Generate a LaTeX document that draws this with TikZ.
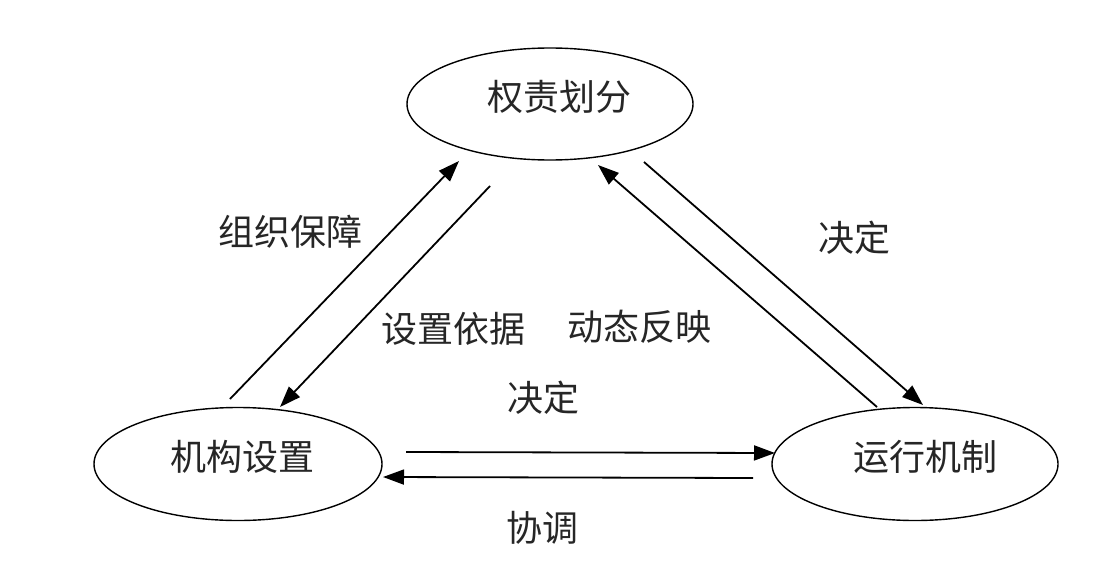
\documentclass[tikz,border=0pt]{standalone}
\usepackage{fontspec}
\newfontfamily\cjk{Noto Sans CJK SC}
\usetikzlibrary{arrows.meta,shapes.geometric}
\begin{document}
\begin{tikzpicture}[x=1pt,y=-1pt,
  oval/.style={draw,ellipse,line width=1.4pt,inner sep=0pt},
  lbl/.style={font=\cjk\fontsize{36}{40}\selectfont,inner sep=0pt,text=black!85},
  arr/.style={line width=1.8pt,-{Triangle[length=21pt,width=15pt]}}]
\useasboundingbox (0,0) rectangle (1102,570);
% ellipses
\node[oval,minimum width=286pt,minimum height=112pt] (top) at (550,104) {};
\node[oval,minimum width=288pt,minimum height=113pt] (left) at (238,464) {};
\node[oval,minimum width=286pt,minimum height=113pt] (right) at (915,464) {};
% ellipse texts
\node[lbl] (ttop) at (559,97) {权责划分};
\node[lbl] (tleft) at (242,457) {机构设置};
\node[lbl] (tright) at (925,457) {运行机制};
% connector end points
\coordinate (a1s) at (230,399); \coordinate (a1e) at (459,161);
\coordinate (a2s) at (490,186); \coordinate (a2e) at (280,407);
\coordinate (a3s) at (877,407); \coordinate (a3e) at (598,165);
\coordinate (a4s) at (644,162); \coordinate (a4e) at (923,405);
\coordinate (a5s) at (406,452); \coordinate (a5e) at (775,453);
\coordinate (a6s) at (753,478); \coordinate (a6e) at (383,477);
\draw[arr] (a1s) -- (a1e);
\draw[arr] (a2s) -- (a2e);
\draw[arr] (a3s) -- (a3e);
\draw[arr] (a4s) -- (a4e);
\draw[arr] (a5s) -- (a5e);
\draw[arr] (a6s) -- (a6e);
% connector labels
\node[lbl] (l1) at (290,232) {组织保障};
\node[lbl] (l2) at (453,329) {设置依据};
\node[lbl] (l3) at (639,327) {动态反映};
\node[lbl] (l4) at (854,238) {决定};
\node[lbl] (l5) at (543,398) {决定};
\node[lbl] (l6) at (542,528) {协调};
\end{tikzpicture}
\end{document}
